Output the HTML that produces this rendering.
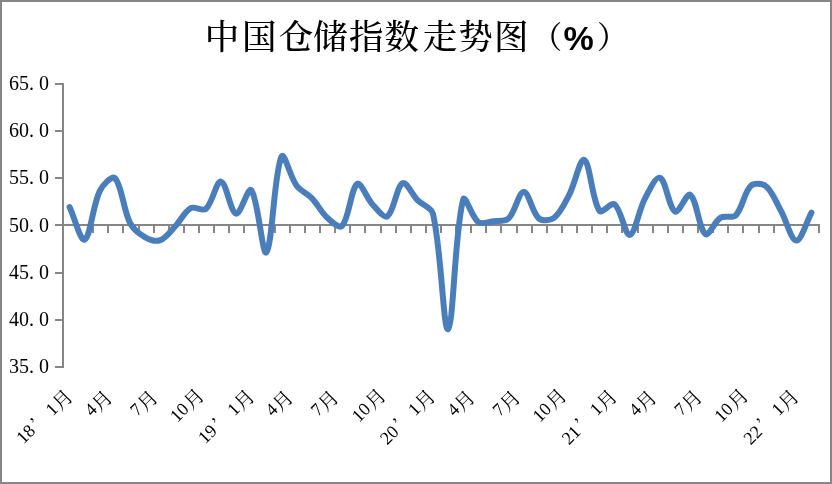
<!DOCTYPE html>
<html><head><meta charset="utf-8"><style>
html,body{margin:0;padding:0;background:#fff;}
body{width:832px;height:484px;overflow:hidden;}
svg{display:block;}
.t{font-family:"Noto Serif CJK SC",serif;font-size:34.5px;font-weight:500;fill:#000;}
.pct{font-family:"Liberation Sans",sans-serif;font-weight:bold;font-size:34px;fill:#000;}
.yl{font-family:"Liberation Serif","Noto Serif CJK SC",serif;font-size:20px;fill:#000;}
.xl{font-family:"Liberation Serif","Noto Serif CJK SC",serif;font-size:18px;fill:#000;}
.c{font-family:"Noto Serif CJK SC",serif;font-size:19.5px;}
</style></head><body>
<svg width="832" height="484" viewBox="0 0 832 484">
<rect x="0" y="0" width="832" height="484" fill="#fff"/>
<rect x="1" y="1" width="830" height="482" fill="none" stroke="#868686" stroke-width="2"/>
<text class="t" y="48.8"><tspan x="204.8">中</tspan><tspan x="241.9">国</tspan><tspan x="278.8">仓</tspan><tspan x="312.9">储</tspan><tspan x="349.0">指</tspan><tspan x="384.6">数</tspan><tspan x="422.8">走</tspan><tspan x="458.2">势</tspan><tspan x="494.0">图</tspan></text><text class="t" y="47.6" style="font-size:31px"><tspan x="531.2">（</tspan><tspan x="597.0">）</tspan></text><text class="pct" x="563.5" y="49.85">%</text>
<rect x="62" y="83" width="2" height="285" fill="#868686"/><rect x="55" y="83" width="8" height="2" fill="#868686"/><rect x="55" y="130" width="8" height="2" fill="#868686"/><rect x="55" y="177" width="8" height="2" fill="#868686"/><rect x="55" y="224" width="8" height="2" fill="#868686"/><rect x="55" y="272" width="8" height="2" fill="#868686"/><rect x="55" y="319" width="8" height="2" fill="#868686"/><rect x="55" y="366" width="8" height="2" fill="#868686"/><rect x="62" y="224" width="757" height="2" fill="#868686"/><rect x="77" y="224" width="2" height="9" fill="#868686"/><rect x="92" y="224" width="2" height="9" fill="#868686"/><rect x="107" y="224" width="2" height="9" fill="#868686"/><rect x="122" y="224" width="2" height="9" fill="#868686"/><rect x="138" y="224" width="2" height="9" fill="#868686"/><rect x="153" y="224" width="2" height="9" fill="#868686"/><rect x="168" y="224" width="2" height="9" fill="#868686"/><rect x="183" y="224" width="2" height="9" fill="#868686"/><rect x="198" y="224" width="2" height="9" fill="#868686"/><rect x="213" y="224" width="2" height="9" fill="#868686"/><rect x="228" y="224" width="2" height="9" fill="#868686"/><rect x="243" y="224" width="2" height="9" fill="#868686"/><rect x="259" y="224" width="2" height="9" fill="#868686"/><rect x="274" y="224" width="2" height="9" fill="#868686"/><rect x="289" y="224" width="2" height="9" fill="#868686"/><rect x="304" y="224" width="2" height="9" fill="#868686"/><rect x="319" y="224" width="2" height="9" fill="#868686"/><rect x="334" y="224" width="2" height="9" fill="#868686"/><rect x="349" y="224" width="2" height="9" fill="#868686"/><rect x="364" y="224" width="2" height="9" fill="#868686"/><rect x="380" y="224" width="2" height="9" fill="#868686"/><rect x="395" y="224" width="2" height="9" fill="#868686"/><rect x="410" y="224" width="2" height="9" fill="#868686"/><rect x="425" y="224" width="2" height="9" fill="#868686"/><rect x="440" y="224" width="2" height="9" fill="#868686"/><rect x="455" y="224" width="2" height="9" fill="#868686"/><rect x="470" y="224" width="2" height="9" fill="#868686"/><rect x="485" y="224" width="2" height="9" fill="#868686"/><rect x="500" y="224" width="2" height="9" fill="#868686"/><rect x="516" y="224" width="2" height="9" fill="#868686"/><rect x="531" y="224" width="2" height="9" fill="#868686"/><rect x="546" y="224" width="2" height="9" fill="#868686"/><rect x="561" y="224" width="2" height="9" fill="#868686"/><rect x="576" y="224" width="2" height="9" fill="#868686"/><rect x="591" y="224" width="2" height="9" fill="#868686"/><rect x="606" y="224" width="2" height="9" fill="#868686"/><rect x="621" y="224" width="2" height="9" fill="#868686"/><rect x="637" y="224" width="2" height="9" fill="#868686"/><rect x="652" y="224" width="2" height="9" fill="#868686"/><rect x="667" y="224" width="2" height="9" fill="#868686"/><rect x="682" y="224" width="2" height="9" fill="#868686"/><rect x="697" y="224" width="2" height="9" fill="#868686"/><rect x="712" y="224" width="2" height="9" fill="#868686"/><rect x="727" y="224" width="2" height="9" fill="#868686"/><rect x="742" y="224" width="2" height="9" fill="#868686"/><rect x="758" y="224" width="2" height="9" fill="#868686"/><rect x="773" y="224" width="2" height="9" fill="#868686"/><rect x="788" y="224" width="2" height="9" fill="#868686"/><rect x="803" y="224" width="2" height="9" fill="#868686"/><rect x="818" y="224" width="2" height="9" fill="#868686"/><text class="yl" y="90.0"><tspan x="8.9">6</tspan><tspan x="18.9">5</tspan><tspan x="29.1">.</tspan><tspan x="38.9">0</tspan></text><text class="yl" y="137.2"><tspan x="8.9">6</tspan><tspan x="18.9">0</tspan><tspan x="29.1">.</tspan><tspan x="38.9">0</tspan></text><text class="yl" y="184.3"><tspan x="8.9">5</tspan><tspan x="18.9">5</tspan><tspan x="29.1">.</tspan><tspan x="38.9">0</tspan></text><text class="yl" y="231.5"><tspan x="8.9">5</tspan><tspan x="18.9">0</tspan><tspan x="29.1">.</tspan><tspan x="38.9">0</tspan></text><text class="yl" y="278.7"><tspan x="8.9">4</tspan><tspan x="18.9">5</tspan><tspan x="29.1">.</tspan><tspan x="38.9">0</tspan></text><text class="yl" y="325.8"><tspan x="8.9">4</tspan><tspan x="18.9">0</tspan><tspan x="29.1">.</tspan><tspan x="38.9">0</tspan></text><text class="yl" y="373.0"><tspan x="8.9">3</tspan><tspan x="18.9">5</tspan><tspan x="29.1">.</tspan><tspan x="38.9">0</tspan></text><text class="xl" text-anchor="end" transform="translate(74.34,397.70) rotate(-45)"><tspan dy="-2.8">18</tspan><tspan dx="2.5" dy="-1.5">’</tspan><tspan dx="14" dy="2.2">1</tspan><tspan class="c" dy="2.1">月</tspan></text><text class="xl" text-anchor="end" transform="translate(113.78,398.70) rotate(-45)"><tspan dy="-2.6">4</tspan><tspan class="c" dy="2.6">月</tspan></text><text class="xl" text-anchor="end" transform="translate(159.22,398.70) rotate(-45)"><tspan dy="-2.6">7</tspan><tspan class="c" dy="2.6">月</tspan></text><text class="xl" text-anchor="end" transform="translate(205.46,396.80) rotate(-45)"><tspan dy="-1.5">10</tspan><tspan class="c" dx="1" dy="1.5">月</tspan></text><text class="xl" text-anchor="end" transform="translate(256.10,397.70) rotate(-45)"><tspan dy="-2.8">19</tspan><tspan dx="2.5" dy="-1.5">’</tspan><tspan dx="14" dy="2.2">1</tspan><tspan class="c" dy="2.1">月</tspan></text><text class="xl" text-anchor="end" transform="translate(294.54,398.70) rotate(-45)"><tspan dy="-2.6">4</tspan><tspan class="c" dy="2.6">月</tspan></text><text class="xl" text-anchor="end" transform="translate(339.98,398.70) rotate(-45)"><tspan dy="-2.6">7</tspan><tspan class="c" dy="2.6">月</tspan></text><text class="xl" text-anchor="end" transform="translate(387.22,396.80) rotate(-45)"><tspan dy="-1.5">10</tspan><tspan class="c" dx="1" dy="1.5">月</tspan></text><text class="xl" text-anchor="end" transform="translate(436.86,397.70) rotate(-45)"><tspan dy="-1.3">20</tspan><tspan dx="2.5" dy="-2.6">’</tspan><tspan dx="14" dy="1.8">1</tspan><tspan class="c" dy="2.1">月</tspan></text><text class="xl" text-anchor="end" transform="translate(476.30,398.70) rotate(-45)"><tspan dy="-2.6">4</tspan><tspan class="c" dy="2.6">月</tspan></text><text class="xl" text-anchor="end" transform="translate(521.74,398.70) rotate(-45)"><tspan dy="-2.6">7</tspan><tspan class="c" dy="2.6">月</tspan></text><text class="xl" text-anchor="end" transform="translate(567.98,396.80) rotate(-45)"><tspan dy="-1.5">10</tspan><tspan class="c" dx="1" dy="1.5">月</tspan></text><text class="xl" text-anchor="end" transform="translate(618.62,397.70) rotate(-45)"><tspan dy="-1.3">21</tspan><tspan dx="2.5" dy="-2.6">’</tspan><tspan dx="14" dy="1.8">1</tspan><tspan class="c" dy="2.1">月</tspan></text><text class="xl" text-anchor="end" transform="translate(658.06,398.70) rotate(-45)"><tspan dy="-2.6">4</tspan><tspan class="c" dy="2.6">月</tspan></text><text class="xl" text-anchor="end" transform="translate(703.50,398.20) rotate(-45)"><tspan dy="-2.6">7</tspan><tspan class="c" dy="2.6">月</tspan></text><text class="xl" text-anchor="end" transform="translate(749.74,396.80) rotate(-45)"><tspan dy="-1.5">10</tspan><tspan class="c" dx="1" dy="1.5">月</tspan></text><text class="xl" text-anchor="end" transform="translate(800.38,397.70) rotate(-45)"><tspan dy="-1.3">22</tspan><tspan dx="2.5" dy="-2.6">’</tspan><tspan dx="14" dy="1.8">1</tspan><tspan class="c" dy="2.1">月</tspan></text>
<path d="M69.57,207.08 C74.62,217.93 80.54,241.85 84.71,239.62 C90.64,236.45 92.58,205.63 99.85,190.85 C102.67,185.13 112.02,174.95 114.99,178.12 C122.11,185.71 123.10,209.39 130.13,223.11 C133.20,229.10 139.48,234.02 145.27,237.26 C149.57,239.68 156.11,241.70 160.41,240.09 C166.20,237.93 170.82,230.96 175.55,225.94 C180.91,220.27 184.56,211.46 190.69,208.02 C194.65,205.80 202.53,211.84 205.83,208.96 C212.63,203.04 216.24,180.87 220.97,181.61 C226.33,182.44 230.47,212.10 236.11,213.68 C240.57,214.93 248.18,186.18 251.25,190.10 C258.27,199.07 262.37,256.80 266.39,252.36 C272.47,245.64 274.00,173.16 281.53,156.61 C284.09,150.99 290.33,177.16 296.67,185.85 C300.42,191.00 307.34,193.46 311.81,198.12 C317.44,203.99 321.04,212.02 326.95,217.45 C331.13,221.29 339.26,229.07 342.09,225.94 C349.36,217.91 350.79,188.58 357.23,183.97 C360.88,181.35 366.64,198.15 372.37,204.25 C376.74,208.90 384.01,218.66 387.51,216.23 C394.10,211.65 396.47,186.43 402.65,183.21 C406.56,181.18 412.41,195.06 417.79,200.47 C422.50,205.21 431.45,207.37 432.93,213.68 C441.54,250.29 443.31,331.46 448.07,329.23 C453.40,326.74 454.86,229.06 463.21,199.53 C464.95,193.37 471.87,217.53 478.35,222.17 C481.96,224.76 488.48,221.85 493.49,221.23 C498.58,220.59 505.24,221.67 508.63,218.40 C515.33,211.92 518.72,191.98 523.77,191.98 C528.82,191.98 532.17,212.62 538.91,218.40 C542.26,221.27 550.48,220.71 554.05,217.93 C560.57,212.85 564.94,202.95 569.19,194.81 C575.04,183.61 580.12,157.68 584.33,159.91 C590.21,163.03 591.77,199.58 599.47,210.85 C601.86,214.35 611.32,201.64 614.61,204.25 C621.42,209.65 625.06,235.78 629.75,234.90 C635.15,233.90 638.78,210.10 644.89,198.59 C648.88,191.07 655.89,176.06 660.03,177.84 C665.99,180.40 668.90,208.09 675.17,211.61 C679.00,213.75 686.78,192.20 690.31,194.81 C696.87,199.68 698.86,229.09 705.45,234.06 C708.95,236.69 714.60,221.34 720.59,217.64 C724.70,215.11 732.54,218.72 735.73,215.38 C742.64,208.13 743.94,192.50 750.87,185.85 C754.03,182.82 762.56,183.43 766.01,186.32 C772.66,191.92 776.40,202.82 781.15,211.32 C786.50,220.90 791.15,240.32 796.29,240.56 C801.24,240.80 806.38,222.01 811.43,212.74" fill="none" stroke="#4A7EBB" stroke-width="6" stroke-linecap="round" stroke-linejoin="round"/>
</svg>
</body></html>
